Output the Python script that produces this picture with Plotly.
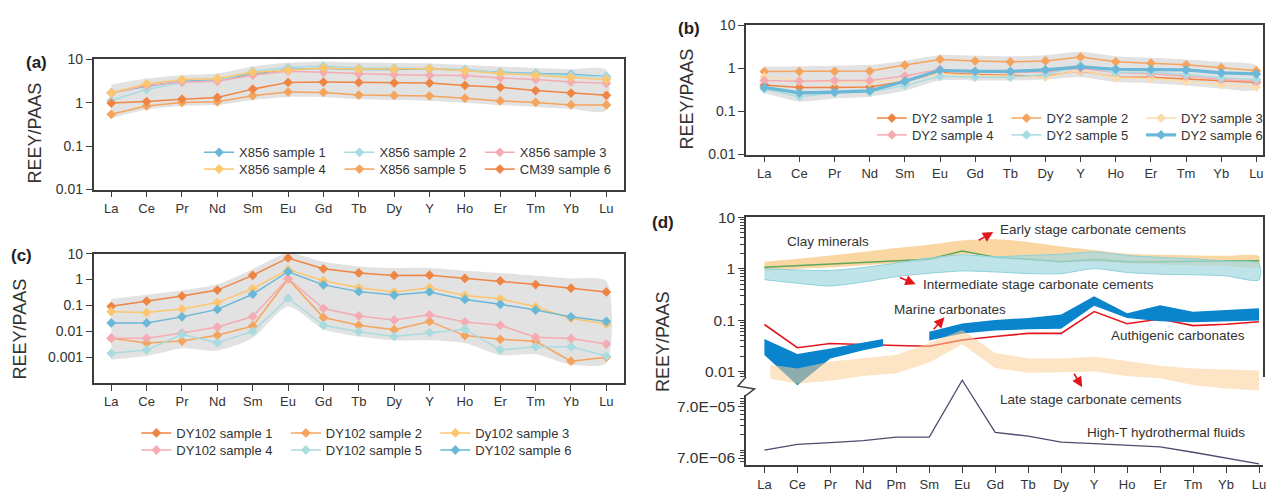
import plotly.graph_objects as go

W, H = 1276, 496
FONT = "Liberation Sans, Arial, sans-serif"
INK = "#333333"
AXIS = "#3c3c3c"

# ---------------- data ----------------
ree15 = ["La", "Ce", "Pr", "Nd", "Sm", "Eu", "Gd", "Tb", "Dy", "Y", "Ho", "Er", "Tm", "Yb", "Lu"]
ree16 = ["La", "Ce", "Pr", "Nd", "Pm", "Sm", "Eu", "Gd", "Tb", "Dy", "Y", "Ho", "Er", "Tm", "Yb", "Lu"]

# (a) X856 / CM39
a_names = ["X856 sample 1", "X856 sample 2", "X856 sample 3",
           "X856 sample 4", "X856 sample 5", "CM39 sample 6"]
a_s1 = [1.7, 2.4, 3.1, 3.3, 4.6, 5.8, 6.2, 5.8, 5.8, 6.0, 5.6, 5.0, 4.7, 4.5, 4.0]
a_s2 = [1.12, 2.0, 2.9, 3.2, 5.3, 6.5, 7.0, 6.3, 6.3, 6.2, 5.9, 4.9, 4.6, 4.3, 3.9]
a_s3 = [1.65, 2.5, 3.0, 3.1, 4.3, 5.3, 5.0, 4.6, 4.4, 4.3, 4.2, 3.7, 3.4, 3.0, 2.8]
a_s4 = [1.7, 2.7, 3.4, 3.6, 5.0, 5.6, 6.3, 5.9, 5.9, 6.1, 5.4, 4.7, 4.3, 3.8, 3.4]
a_s5 = [0.54, 0.84, 1.01, 1.05, 1.45, 1.75, 1.72, 1.5, 1.47, 1.43, 1.27, 1.1, 1.01, 0.89, 0.89]
a_s6 = [0.98, 1.06, 1.2, 1.32, 2.05, 2.93, 2.98, 2.93, 2.85, 2.83, 2.5, 2.25, 1.9, 1.66, 1.48]
a_hi = [2.6, 3.6, 4.3, 4.7, 6.8, 8.3, 8.8, 8.4, 8.2, 8.0, 7.4, 6.8, 6.3, 5.9, 5.7]
a_lo = [0.44, 0.70, 0.84, 0.88, 1.15, 1.35, 1.35, 1.2, 1.15, 1.1, 1.0, 0.88, 0.80, 0.72, 0.66]

# (b) DY2
b_names = ["DY2 sample 1", "DY2 sample 2", "DY2 sample 3",
           "DY2 sample 4", "DY2 sample 5", "DY2 sample 6"]
b_s1 = [0.41, 0.36, 0.36, 0.37, 0.5, 0.8, 0.72, 0.68, 0.65, 0.88, 0.62, 0.62, 0.57, 0.52, 0.47]
b_s2 = [0.84, 0.84, 0.85, 0.86, 1.19, 1.6, 1.48, 1.41, 1.48, 1.82, 1.41, 1.31, 1.2, 1.03, 0.88]
b_s3 = [0.62, 0.52, 0.49, 0.47, 0.56, 0.75, 0.68, 0.65, 0.62, 0.9, 0.6, 0.58, 0.5, 0.41, 0.37]
b_s4 = [0.52, 0.5, 0.52, 0.52, 0.66, 0.95, 0.82, 0.8, 0.82, 1.0, 0.8, 0.75, 0.65, 0.55, 0.5]
b_s5 = [0.33, 0.22, 0.27, 0.28, 0.4, 0.65, 0.62, 0.62, 0.72, 1.15, 0.8, 0.82, 0.72, 0.6, 0.55]
b_s6 = [0.36, 0.27, 0.28, 0.30, 0.50, 0.90, 0.85, 0.85, 0.92, 1.08, 0.95, 0.93, 0.92, 0.78, 0.74]
b_hi = [1.1, 1.12, 1.15, 1.2, 1.5, 2.0, 1.95, 1.9, 2.0, 2.4, 1.9, 1.75, 1.6, 1.4, 1.15]
b_lo = [0.27, 0.17, 0.20, 0.22, 0.30, 0.52, 0.52, 0.52, 0.55, 0.62, 0.48, 0.45, 0.40, 0.34, 0.32]

# (c) DY102
c_names = ["DY102 sample 1", "DY102 sample 2", "Dy102 sample 3",
           "DY102 sample 4", "DY102 sample 5", "DY102 sample 6"]
c_s1 = [0.092, 0.145, 0.23, 0.39, 1.45, 6.8, 2.6, 1.8, 1.43, 1.47, 1.1, 0.88, 0.64, 0.46, 0.33]
c_s2 = [0.0054, 0.0035, 0.0042, 0.0070, 0.016, 1.05, 0.034, 0.017, 0.0115, 0.024, 0.0068, 0.0049, 0.0041, 0.0007, 0.00098]
c_s3 = [0.057, 0.053, 0.072, 0.13, 0.44, 2.4, 0.9, 0.48, 0.33, 0.48, 0.24, 0.18, 0.088, 0.031, 0.019]
c_s4 = [0.0054, 0.0054, 0.0085, 0.0145, 0.037, 1.1, 0.076, 0.039, 0.027, 0.043, 0.023, 0.017, 0.0059, 0.0052, 0.0032]
c_s5 = [0.0014, 0.0019, 0.0075, 0.0036, 0.0099, 0.19, 0.017, 0.0096, 0.0063, 0.0089, 0.012, 0.0019, 0.0025, 0.0025, 0.0011]
c_s6 = [0.021, 0.021, 0.036, 0.070, 0.27, 2.0, 0.62, 0.34, 0.25, 0.33, 0.17, 0.11, 0.066, 0.036, 0.024]
c_hi = [0.18, 0.26, 0.38, 0.65, 2.5, 10.5, 4.8, 3.2, 2.8, 2.8, 2.2, 1.8, 1.4, 1.1, 0.85]
c_lo = [0.0008, 0.0011, 0.0022, 0.0018, 0.0055, 0.09, 0.012, 0.0063, 0.0045, 0.0045, 0.0035, 0.0012, 0.0013, 0.00052, 0.0006]

# (d) reference fields
clay = [1.06, 1.14, 1.21, 1.32, 1.42, 1.52, 2.2, 1.66, 1.52, 1.36, 1.5, 1.36, 1.36, 1.4, 1.4, 1.42]
early_hi = [1.35, 1.55, 1.8, 2.1, 2.5, 2.9, 3.5, 3.7, 3.3, 2.7, 2.3, 1.95, 1.85, 1.8, 1.77, 1.75]
early_lo = [0.9, 0.98, 1.06, 1.15, 1.28, 1.45, 1.9, 1.75, 1.55, 1.4, 1.35, 1.25, 1.2, 1.15, 1.12, 1.08]
inter_hi = [1.0, 0.94, 0.92, 1.05, 1.28, 1.6, 1.85, 1.7, 1.8, 1.9, 2.1, 1.8, 1.65, 1.55, 1.4, 1.25]
inter_lo = [0.61, 0.52, 0.46, 0.55, 0.7, 0.81, 0.9, 0.86, 0.8, 0.8, 1.0, 0.84, 0.78, 0.76, 0.72, 0.6]
marine1_x = [0, 1, 2, 3, 3.6]
marine1_hi = [0.043, 0.022, 0.028, 0.037, 0.043]
marine1_lo = [0.021, 0.0054, 0.018, 0.026, 0.031]
marine2_x = [5, 6, 7, 8, 9, 10, 11, 12, 13, 14, 15]
marine2_hi = [0.059, 0.086, 0.10, 0.11, 0.128, 0.29, 0.135, 0.195, 0.145, 0.155, 0.17]
marine2_lo = [0.040, 0.055, 0.063, 0.066, 0.068, 0.19, 0.11, 0.095, 0.091, 0.095, 0.098]
authigenic = [0.082, 0.029, 0.035, 0.033, 0.032, 0.031, 0.041, 0.048, 0.055, 0.055, 0.146, 0.085, 0.105, 0.078, 0.083, 0.093]
late_x = [0.18, 1, 2, 3, 4, 5, 6, 7, 8, 9, 10, 11, 12, 13, 14, 15]
late_hi = [0.0136, 0.0115, 0.0157, 0.018, 0.021, 0.036, 0.064, 0.023, 0.018, 0.018, 0.0194, 0.016, 0.013, 0.0115, 0.011, 0.0105]
late_lo = [0.0073, 0.0058, 0.0066, 0.0082, 0.0093, 0.015, 0.034, 0.0117, 0.0095, 0.0097, 0.01, 0.0082, 0.0074, 0.0055, 0.0047, 0.0043]
hydro = [1.0e-5, 1.3e-5, 1.4e-5, 1.53e-5, 1.8e-5, 1.8e-5, 2.33e-4, 2.23e-5, 1.87e-5, 1.44e-5,
         1.34e-5, 1.25e-5, 1.16e-5, 9.1e-6, 7.0e-6, 5.4e-6]

# ---------------- styling ----------------
BLUE = "#6ab7d7"
CYAN = "#a9dbe0"
PINK = "#f5abb2"
YELLOW = "#fcc66e"
LORANGE = "#f5a45d"
DORANGE = "#ef8542"
PALE = "#fddcaa"
BAND = "#e2e2e2"


def fx(p):
    return p / W


def fy(p):
    return 1 - p / H


fig = go.Figure()


def add_band(x, lo, hi, color, xa, ya, line_color=None, line_width=0, shape="spline"):
    xs = list(x) + list(x)[::-1]
    ys = list(hi) + list(lo)[::-1]
    fig.add_trace(go.Scatter(
        x=xs, y=ys, mode="lines", fill="toself", fillcolor=color,
        line=dict(color=line_color or "rgba(0,0,0,0)", width=line_width, shape=shape, smoothing=0.7),
        hoverinfo="skip", showlegend=False, xaxis=xa, yaxis=ya))


def add_series(y, name, color, xa, ya, legend, width=1.5, size=7.5):
    fig.add_trace(go.Scatter(
        x=list(range(len(y))), y=y, name=name, mode="lines+markers",
        line=dict(color=color, width=width),
        marker=dict(symbol="diamond", size=size, color=color),
        xaxis=xa, yaxis=ya, legend=legend))


idx15 = list(range(15))
idx16 = list(range(16))

# (a)
add_band(idx15, a_lo, a_hi, BAND, "x", "y")
for vals, name, col, lg in zip([a_s1, a_s2, a_s3, a_s4, a_s5, a_s6], a_names,
                               [BLUE, CYAN, PINK, YELLOW, LORANGE, DORANGE],
                               ["legend", "legend", "legend", "legend2", "legend2", "legend2"]):
    add_series(vals, name, col, "x", "y", lg)

# (b)
add_band(idx15, b_lo, b_hi, BAND, "x2", "y2")
for vals, name, col, lg, wd in zip([b_s1, b_s2, b_s3, b_s4, b_s5, b_s6], b_names,
                                   [DORANGE, LORANGE, PALE, PINK, CYAN, BLUE],
                                   ["legend3", "legend3", "legend3", "legend4", "legend4", "legend4"],
                                   [1.5, 1.5, 1.5, 1.5, 1.5, 3.2]):
    add_series(vals, name, col, "x2", "y2", lg, width=wd)

# (c)
add_band(idx15, c_lo, c_hi, BAND, "x3", "y3")
for vals, name, col, lg in zip([c_s1, c_s2, c_s3, c_s4, c_s5, c_s6], c_names,
                               [DORANGE, LORANGE, YELLOW, PINK, CYAN, BLUE],
                               ["legend5", "legend5", "legend5", "legend6", "legend6", "legend6"]):
    add_series(vals, name, col, "x3", "y3", lg)

# (d) upper part (data axis y5), lower part (data axis y7)
add_band(idx16, early_lo, early_hi, "rgba(248,198,128,0.72)", "x4", "y5")
fig.add_trace(go.Scatter(x=idx16, y=clay, mode="lines", line=dict(color="#5ea85a", width=1.4),
                         hoverinfo="skip", showlegend=False, xaxis="x4", yaxis="y5"))
add_band(idx16, inter_lo, inter_hi, "rgba(165,216,224,0.72)", "x4", "y5",
         line_color="#8dd0da", line_width=1)
fig.add_trace(go.Scatter(x=idx16, y=authigenic, mode="lines", line=dict(color="#e3161d", width=1.6),
                         hoverinfo="skip", showlegend=False, xaxis="x4", yaxis="y5"))
add_band(marine1_x, marine1_lo, marine1_hi, "#0a84cd", "x4", "y5", shape="linear")
add_band(marine2_x, marine2_lo, marine2_hi, "#0a84cd", "x4", "y5", shape="linear")
add_band(late_x, late_lo, late_hi, "rgba(250,205,150,0.55)", "x4", "y5", shape="linear")
fig.add_trace(go.Scatter(x=idx16, y=hydro, mode="lines", line=dict(color="#4b4d6e", width=1.3),
                         hoverinfo="skip", showlegend=False, xaxis="x4", yaxis="y7"))

# empty traces so the visible (d) frame axes get their own subplots
for xa, ya in [("x5", "y4"), ("x4", "y6")]:
    fig.add_trace(go.Scatter(x=[None], y=[None], mode="markers", hoverinfo="skip",
                             showlegend=False, xaxis=xa, yaxis=ya))

# ---------------- axes ----------------
tickfont = dict(family=FONT, size=13, color=INK)
ytickfont = dict(family=FONT, size=14, color=INK)


def xcat(domain, labels, anchor, rng, **kw):
    d = dict(domain=domain, anchor=anchor, range=rng, tickmode="array",
             tickvals=list(range(len(labels))), ticktext=labels, ticks="outside",
             ticklen=6, tickwidth=1.2, tickcolor=AXIS, showline=True, linecolor=AXIS,
             linewidth=1.5, mirror=True, showgrid=False, zeroline=False, tickfont=tickfont)
    d.update(kw)
    return d


def ylog(domain, anchor, rng, vals, texts, **kw):
    d = dict(domain=domain, anchor=anchor, type="log", range=rng, tickmode="array",
             tickvals=vals, ticktext=texts, ticks="outside", ticklen=6, tickwidth=1.2,
             tickcolor=AXIS, showline=True, linecolor=AXIS, linewidth=1.5, mirror=True,
             showgrid=False, zeroline=False, tickfont=ytickfont)
    d.update(kw)
    return d


XA = [fx(94), fx(627)]
XB = [fx(749.5), fx(1269)]
xb_rng = [-0.52, 14 + (1269 - 1262.3) / 35.33]
xd_rng = [-(768 - 749.5) / 33.13, (1269 - 768) / 33.13]

# (d) vertical geometry: upper 10 at 215.5px, 53.3 px/decade; lower 7e-5 at 412px, 53 px/decade
UP_TOP, UP_AX_BOT, UP_DATA_BOT = 215.5, 381.0, 398.0
LO_AX_TOP, LO_DATA_TOP, LO_BOT = 400.0, 378.0, 472.7
up_ax_rng = [1 - (UP_AX_BOT - UP_TOP) / 53.3, 1]
up_data_rng = [1 - (UP_DATA_BOT - UP_TOP) / 53.3, 1]
lo_ax_rng = [-4.1549 - (LO_BOT - 412) / 53.0, -4.1549 + (412 - LO_AX_TOP) / 53.0]
lo_data_rng = [-4.1549 - (LO_BOT - 412) / 53.0, -4.1549 + (412 - LO_DATA_TOP) / 53.0]

minor_d = dict(ticks="outside", ticklen=4, tickwidth=1, tickcolor=AXIS, dtick="D1")
dfont = dict(family=FONT, size=15.5, color=INK)

layout_axes = dict(
    xaxis=xcat(XA, ree15, "y", [-0.5, 14.5]),
    yaxis=ylog([fy(187), fy(52)], "x", [-2, 1], [0.01, 0.1, 1, 10], ["0.01", "0.1", "1", "10"]),
    xaxis2=xcat(XB, ree15, "y2", xb_rng),
    yaxis2=ylog([fy(150.7), fy(16.7)], "x2", [-2, 1], [0.01, 0.1, 1, 10], ["0.01", "0.1", "1", "10"]),
    xaxis3=xcat(XA, ree15, "y3", [-0.5, 14.5]),
    yaxis3=ylog([fy(387.3), fy(253.3)], "x3", [-4, 1], [0.001, 0.01, 0.1, 1, 10],
                ["0.001", "0.01", "0.1", "1", "10"]),
    xaxis4=xcat(XB, ree16, "y6", xd_rng, mirror=False),
    xaxis5=dict(domain=XB, anchor="y4", side="top", range=xd_rng, showline=True, linecolor=AXIS,
                linewidth=1.5, ticks="", showticklabels=False, showgrid=False, zeroline=False),
    yaxis4=ylog([fy(UP_AX_BOT), fy(UP_TOP)], "x5", up_ax_rng, [0.01, 0.1, 1, 10],
                ["0.01", "0.1", "1", "10"], minor=minor_d, tickfont=dfont),
    yaxis5=dict(domain=[fy(UP_DATA_BOT), fy(UP_TOP)], anchor="x4", type="log", range=up_data_rng,
                visible=False),
    yaxis6=ylog([fy(LO_BOT), fy(LO_AX_TOP)], "x4", lo_ax_rng, [7e-6, 7e-5],
                ["7.0E\u221206", "7.0E\u221205"], minor=minor_d, tickfont=dfont, mirror=False),
    yaxis7=dict(domain=[fy(LO_BOT), fy(LO_DATA_TOP)], anchor="x4", type="log", range=lo_data_rng,
                visible=False),
)

# ---------------- legends (one row each) ----------------
legfont = dict(family=FONT, size=13, color=INK)


def leg(x_px, y_px, ew):
    return dict(orientation="h", x=fx(x_px), y=fy(y_px), xanchor="left", yanchor="middle",
                entrywidth=ew, entrywidthmode="pixels", bgcolor="rgba(0,0,0,0)",
                borderwidth=0, font=legfont, tracegroupgap=0)


legends = dict(
    legend=leg(200, 148.5, 95.4), legend2=leg(200, 165.8, 95.4),
    legend3=leg(876, 113, 89.6), legend4=leg(876, 130.4, 89.6),
    legend5=leg(137, 439.0, 104.5), legend6=leg(137, 456.7, 104.5),
)

# ---------------- annotations ----------------
ann = []
for txt, x, y in [("(a)", 36.5, 55), ("(b)", 692, 20.7), ("(c)", 21.5, 255), ("(d)", 666.5, 220.7)]:
    ann.append(dict(text="<b>%s</b>" % txt, x=fx(x), y=fy(y), xref="paper", yref="paper",
                    showarrow=False, xanchor="center", yanchor="middle",
                    font=dict(family=FONT, size=17, color="#222")))
for x, y in [(35, 128), (690, 93), (20, 331), (666, 344)]:
    ann.append(dict(text="REEY/PAAS", x=fx(x), y=fy(y), xref="paper", yref="paper",
                    showarrow=False, textangle=-90, xanchor="center", yanchor="middle",
                    font=dict(family=FONT, size=18, color=INK)))
labels_d = [("Clay minerals", 789, 241), ("Early stage carbonate cements", 1003, 228.3),
            ("Intermediate stage carbonate cements", 925.7, 285.7),
            ("Marine carbonates", 896.7, 311), ("Authigenic carbonates", 1114, 337.7),
            ("Late stage carbonate cements", 1003, 404), ("High-T hydrothermal fluids", 1089.7, 438.3)]
for txt, x, y in labels_d:
    ann.append(dict(text=txt, x=fx(x), y=fy(y), xref="paper", yref="paper", showarrow=False,
                    xanchor="left", yanchor="middle", font=dict(family=FONT, size=13.5, color=INK)))
arrows = [((982, 240), (998, 231)), ((902.7, 277.7), (920, 285)),
          ((936.7, 332.7), (949, 319.3)), ((1078.3, 376.7), (1087.3, 391.7))]
for (tx, ty), (hx, hy) in arrows:
    ann.append(dict(text="", x=fx(hx), y=fy(hy), xref="paper", yref="paper", showarrow=True,
                    ax=tx - hx, ay=ty - hy, arrowcolor="#e3161d", arrowhead=2, arrowsize=1.3,
                    arrowwidth=1.6, standoff=0, startstandoff=0))

# axis break mark on the (d) y axis
shapes = [dict(type="path", xref="paper", yref="paper",
               path="M %f %f L %f %f L %f %f L %f %f" % (
                   fx(749.5), fy(UP_AX_BOT), fx(741.5), fy(390.5), fx(758), fy(393.5),
                   fx(749.5), fy(LO_AX_TOP)),
               line=dict(color=AXIS, width=1.5))]

fig.update_layout(
    width=W, height=H, margin=dict(l=0, r=0, t=0, b=0),
    paper_bgcolor="white", plot_bgcolor="rgba(0,0,0,0)",
    font=dict(family=FONT, color=INK),
    annotations=ann, shapes=shapes, hovermode=False,
    **layout_axes, **legends,
)

fig.write_html("out.html")
